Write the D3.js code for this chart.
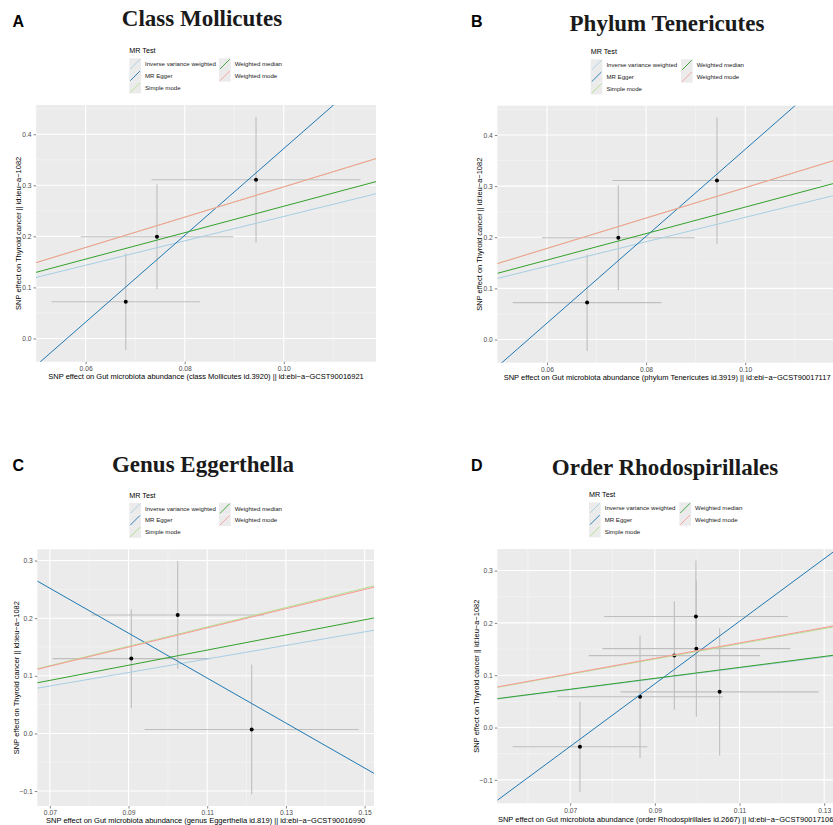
<!DOCTYPE html>
<html>
<head>
<meta charset="utf-8">
<script src="https://cdn.jsdelivr.net/npm/d3@7"></script>
<style>
  body { margin: 0; background: #fff; }
  text { font-family: "Liberation Sans", Arial, sans-serif; }
</style>
</head>
<body>
<script>
// MR methods, in legend order
const methods = ["Inverse variance weighted", "MR Egger", "Simple mode", "Weighted median", "Weighted mode"];

// A: class Mollicutes
const molBetaExp = [0.0681, 0.0744, 0.0944];
const molBetaOut = [0.0720, 0.1992, 0.3110];
const molSeExp = [0.0150, 0.0154, 0.0211];
const molSeOut = [0.0947, 0.1027, 0.1235];
const molSlope = [2.39, 8.50, 2.97, 2.59, 2.97];
const molIntercept = [0, -0.478, 0, 0, 0];
const molXTicks = [0.06, 0.08, 0.10];
const molYTicks = [0.0, 0.1, 0.2, 0.3, 0.4];

// B: phylum Tenericutes
const tenBetaExp = [0.0681, 0.0744, 0.0943];
const tenBetaOut = [0.0722, 0.1992, 0.3110];
const tenSeExp = [0.0150, 0.0154, 0.0211];
const tenSeOut = [0.0947, 0.1027, 0.1235];
const tenSlope = [2.39, 8.50, 2.97, 2.59, 2.97];
const tenIntercept = [0, -0.478, 0, 0, 0];
const tenXTicks = [0.06, 0.08, 0.10];
const tenYTicks = [0.0, 0.1, 0.2, 0.3, 0.4];

// C: genus Eggerthella
const eggBetaExp = [0.0907, 0.1025, 0.1213];
const eggBetaOut = [0.1299, 0.2055, 0.0069];
const eggSeExp = [0.0200, 0.0219, 0.0272];
const eggSeOut = [0.0857, 0.0938, 0.1126];
const eggSlope = [1.175, -3.90, 1.68, 1.315, 1.665];
const eggIntercept = [0, 0.525, 0, 0, 0];
const eggXTicks = [0.07, 0.09, 0.11, 0.13, 0.15];
const eggYTicks = [-0.1, 0.0, 0.1, 0.2, 0.3];

// D: order Rhodospirillales
const rhoBetaExp = [0.0723, 0.0865, 0.0946, 0.0997, 0.0998, 0.1053];
const rhoBetaOut = [-0.0367, 0.0587, 0.1375, 0.2121, 0.1508, 0.0682];
const rhoSeExp = [0.0159, 0.0196, 0.0202, 0.0217, 0.0222, 0.0234];
const rhoSeOut = [0.0860, 0.1170, 0.1036, 0.1070, 0.1300, 0.1215];
const rhoSlope = [1.035, 5.98, 1.455, 1.045, 1.47];
const rhoIntercept = [0, -0.4547, 0, 0, 0];
const rhoXTicks = [0.07, 0.09, 0.11, 0.13];
const rhoYTicks = [-0.1, 0.0, 0.1, 0.2, 0.3];

const panelLetters = ["A", "B", "C", "D"];
const panelTitles = ["Class Mollicutes", "Phylum Tenericutes", "Genus Eggerthella", "Order Rhodospirillales"];
const xTitles = [
  "SNP effect on Gut microbiota abundance (class Mollicutes id.3920) || id:ebi\u2212a\u2212GCST90016921",
  "SNP effect on Gut microbiota abundance (phylum Tenericutes id.3919) || id:ebi\u2212a\u2212GCST90017117",
  "SNP effect on Gut microbiota abundance (genus Eggerthella id.819) || id:ebi\u2212a\u2212GCST90016990",
  "SNP effect on Gut microbiota abundance (order Rhodospirillales id.2667) || id:ebi\u2212a\u2212GCST90017106"
];
const yTitle = "SNP effect on Thyroid cancer || id:ieu\u2212a\u22121082";

const colors = ["#a6cee3", "#1f78b4", "#b2df8a", "#33a02c", "#fb9a99"];

const svg = d3.select("body").append("svg")
  .attr("width", 833)
  .attr("height", 825);

// layout of each panel (pixels)
const layouts = [
  {x0: 36, x1: 376, y0: 105, y1: 361.7, letterX: 12.5, letterY: 27, titleX: 202, titleY: 26,
   legX: 129.3, legY: 53.3, col2: 219, yLabX: 18.5, xLabY: 379},
  {x0: 497.3, x1: 837, y0: 105.7, y1: 362.7, letterX: 471, letterY: 27, titleX: 667, titleY: 30.5,
   legX: 590.7, legY: 54.3, col2: 681, yLabX: 479.5, xLabY: 379.5},
  {x0: 37.3, x1: 374, y0: 549.3, y1: 806, letterX: 12.5, letterY: 470.5, titleX: 203, titleY: 471.7,
   legX: 129.3, legY: 497.7, col2: 219, yLabX: 16, xLabY: 823},
  {x0: 497.3, x1: 834, y0: 549, y1: 803.3, letterX: 471, letterY: 470.5, titleX: 665, titleY: 475,
   legX: 589, legY: 497.3, col2: 679.3, yLabX: 476.5, xLabY: 822}
];

const panels = [
  {bx: molBetaExp, by: molBetaOut, sx: molSeExp, sy: molSeOut, slope: molSlope, icpt: molIntercept, xt: molXTicks, yt: molYTicks},
  {bx: tenBetaExp, by: tenBetaOut, sx: tenSeExp, sy: tenSeOut, slope: tenSlope, icpt: tenIntercept, xt: tenXTicks, yt: tenYTicks},
  {bx: eggBetaExp, by: eggBetaOut, sx: eggSeExp, sy: eggSeOut, slope: eggSlope, icpt: eggIntercept, xt: eggXTicks, yt: eggYTicks},
  {bx: rhoBetaExp, by: rhoBetaOut, sx: rhoSeExp, sy: rhoSeOut, slope: rhoSlope, icpt: rhoIntercept, xt: rhoXTicks, yt: rhoYTicks}
];

// ggplot-style 5% expansion of the data range
function expand(lo, hi) {
  let d = (hi - lo) * 0.05;
  return [lo - d, hi + d];
}

// midpoints between major ticks, plus one either side
function minors(t) {
  let step = t[1] - t[0];
  let out = [t[0] - step / 2];
  t.forEach(v => out.push(v + step / 2));
  return out;
}

panels.forEach(function(p, i) {
  let L = layouts[i];
  let snps = p.bx.map((v, j) => ({bx: v, by: p.by[j], sx: p.sx[j], sy: p.sy[j]}));

  let x = d3.scaleLinear()
    .domain(expand(d3.min(snps, d => d.bx - d.sx), d3.max(snps, d => d.bx + d.sx)))
    .range([L.x0, L.x1]);
  let y = d3.scaleLinear()
    .domain(expand(d3.min(snps, d => d.by - d.sy), d3.max(snps, d => d.by + d.sy)))
    .range([L.y1, L.y0]);

  let g = svg.append("g");

  // panel letter and title
  g.append("text")
    .attr("x", L.letterX).attr("y", L.letterY)
    .attr("font-size", 16).attr("font-weight", "bold")
    .text(panelLetters[i]);
  g.append("text")
    .attr("x", L.titleX).attr("y", L.titleY)
    .attr("text-anchor", "middle")
    .style("font-family", "'Liberation Serif', 'Times New Roman', serif")
    .attr("font-size", 23).attr("font-weight", "bold")
    .attr("fill", "#1a1a1a")
    .text(panelTitles[i]);

  // legend
  let leg = g.append("g");
  leg.append("text")
    .attr("x", L.legX).attr("y", L.legY)
    .attr("font-size", 7.2).attr("fill", "#000")
    .text("MR Test");
  let ks = 11.7;
  methods.forEach(function(m, k) {
    let col = k < 3 ? 0 : 1;
    let row = k < 3 ? k : k - 3;
    let kx = col == 0 ? L.legX : L.col2;
    let ky = L.legY + 5 + row * ks;
    leg.append("rect")
      .attr("x", kx).attr("y", ky)
      .attr("width", ks).attr("height", ks)
      .attr("fill", "#ebebeb");
    leg.append("line")
      .attr("x1", kx + 1).attr("y1", ky + ks - 1)
      .attr("x2", kx + ks - 1).attr("y2", ky + 1)
      .attr("stroke", colors[k]).attr("stroke-width", 0.9);
    leg.append("text")
      .attr("x", kx + ks + 4).attr("y", ky + ks / 2 + 2.2)
      .attr("font-size", 6.1).attr("fill", "#1a1a1a")
      .text(m);
  });

  // panel background + grid
  g.append("rect")
    .attr("x", L.x0).attr("y", L.y0)
    .attr("width", L.x1 - L.x0).attr("height", L.y1 - L.y0)
    .attr("fill", "#ebebeb");

  let xd = x.domain(), yd = y.domain();
  let inX = v => v >= xd[0] && v <= xd[1];
  let inY = v => v >= yd[0] && v <= yd[1];

  g.selectAll(".minx").data(minors(p.xt).filter(inX)).enter().append("line")
    .attr("x1", d => x(d)).attr("x2", d => x(d))
    .attr("y1", L.y0).attr("y2", L.y1)
    .attr("stroke", "#f7f7f7").attr("stroke-width", 0.6);
  g.selectAll(".miny").data(minors(p.yt).filter(inY)).enter().append("line")
    .attr("y1", d => y(d)).attr("y2", d => y(d))
    .attr("x1", L.x0).attr("x2", L.x1)
    .attr("stroke", "#f7f7f7").attr("stroke-width", 0.6);
  g.selectAll(".majx").data(p.xt).enter().append("line")
    .attr("x1", d => x(d)).attr("x2", d => x(d))
    .attr("y1", L.y0).attr("y2", L.y1)
    .attr("stroke", "#fff").attr("stroke-width", 1.1);
  g.selectAll(".majy").data(p.yt).enter().append("line")
    .attr("y1", d => y(d)).attr("y2", d => y(d))
    .attr("x1", L.x0).attr("x2", L.x1)
    .attr("stroke", "#fff").attr("stroke-width", 1.1);

  // axes
  let xAxis = g.append("g")
    .attr("transform", `translate(0,${L.y1})`)
    .call(d3.axisBottom(x).tickValues(p.xt).tickSize(2.5).tickPadding(2).tickFormat(d3.format(".2f")));
  let yAxis = g.append("g")
    .attr("transform", `translate(${L.x0},0)`)
    .call(d3.axisLeft(y).tickValues(p.yt).tickSize(2.5).tickPadding(2).tickFormat(d3.format(".1f")));
  [xAxis, yAxis].forEach(function(a) {
    a.select(".domain").remove();
    a.selectAll("line").attr("stroke", "#333").attr("stroke-width", 0.6);
    a.selectAll("text").attr("fill", "#4d4d4d").attr("font-size", 6.7)
      .style("font-family", "'Liberation Sans', Arial, sans-serif");
  });

  // axis titles
  g.append("text")
    .attr("x", (L.x0 + L.x1) / 2).attr("y", L.xLabY)
    .attr("text-anchor", "middle").attr("font-size", 7.5)
    .text(xTitles[i]);
  g.append("text")
    .attr("transform", `translate(${L.yLabX},${(L.y0 + L.y1) / 2}) rotate(-90)`)
    .attr("text-anchor", "middle").attr("dy", "0.35em").attr("font-size", 7.5)
    .text(yTitle);

  // clip for data layer
  let clipId = "clip" + i;
  svg.append("clipPath").attr("id", clipId)
    .append("rect")
    .attr("x", L.x0).attr("y", L.y0)
    .attr("width", L.x1 - L.x0).attr("height", L.y1 - L.y0);
  let plot = g.append("g").attr("clip-path", `url(#${clipId})`);

  // error bars
  plot.selectAll(".ev").data(snps).enter().append("line")
    .attr("x1", d => x(d.bx)).attr("x2", d => x(d.bx))
    .attr("y1", d => y(d.by - d.sy)).attr("y2", d => y(d.by + d.sy))
    .attr("stroke", "#bebebe").attr("stroke-width", 1.1);
  plot.selectAll(".eh").data(snps).enter().append("line")
    .attr("y1", d => y(d.by)).attr("y2", d => y(d.by))
    .attr("x1", d => x(d.bx - d.sx)).attr("x2", d => x(d.bx + d.sx))
    .attr("stroke", "#bebebe").attr("stroke-width", 1.1);

  // points
  plot.selectAll(".pt").data(snps).enter().append("circle")
    .attr("cx", d => x(d.bx)).attr("cy", d => y(d.by))
    .attr("r", 2).attr("fill", "#000");

  // MR lines
  methods.forEach(function(m, k) {
    plot.append("line")
      .attr("x1", x(xd[0])).attr("y1", y(p.icpt[k] + p.slope[k] * xd[0]))
      .attr("x2", x(xd[1])).attr("y2", y(p.icpt[k] + p.slope[k] * xd[1]))
      .attr("stroke", colors[k]).attr("stroke-width", 1);
  });
});
</script>
</body>
</html>
